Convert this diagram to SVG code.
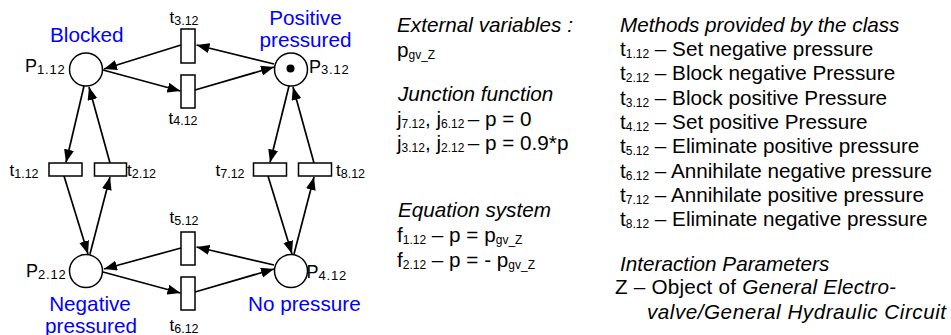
<svg xmlns="http://www.w3.org/2000/svg" width="951" height="335" viewBox="0 0 951 335">
<defs>
<style>
text{font-family:"Liberation Sans",Arial,sans-serif;fill:#000}
.m{font-size:20.7px}
.i{font-style:italic}
.b{fill:#0000ff;font-size:20.7px}
.s{font-size:12px}
.pl{font-size:18px}
.ps{font-size:13px;letter-spacing:0.8px}
.tl{font-size:17px}
.ts{font-size:12.5px}
.place{fill:#fff;stroke:#000;stroke-width:1.5}
.trans{fill:#fff;stroke:#000;stroke-width:1.5}
.arc{stroke:#000;stroke-width:1.7;fill:none;marker-end:url(#ah)}
</style>
<marker id="ah" markerUnits="userSpaceOnUse" markerWidth="14" markerHeight="11" refX="13" refY="5" orient="auto">
<path d="M0,0 L13,5 L0,10 z" fill="#000"/>
</marker>
</defs>

<g id="connectors">
<line class="arc" x1="274" y1="64" x2="196.5" y2="45"/>
<line class="arc" x1="181" y1="45" x2="104" y2="69"/>
<line class="arc" x1="103" y1="70" x2="180.5" y2="91"/>
<line class="arc" x1="195" y1="90" x2="274" y2="67"/>
<line class="arc" x1="274" y1="265" x2="196.5" y2="247"/>
<line class="arc" x1="181" y1="248" x2="104" y2="269"/>
<line class="arc" x1="103" y1="272" x2="180.5" y2="293"/>
<line class="arc" x1="195" y1="292" x2="274" y2="269"/>
<line class="arc" x1="84" y1="86" x2="66" y2="162.5"/>
<line class="arc" x1="110" y1="163" x2="89" y2="87"/>
<line class="arc" x1="64" y1="176" x2="88" y2="254"/>
<line class="arc" x1="90" y1="254" x2="110" y2="177"/>
<line class="arc" x1="289" y1="86" x2="270" y2="162.5"/>
<line class="arc" x1="314" y1="163" x2="293" y2="87"/>
<line class="arc" x1="268" y1="176" x2="292" y2="254"/>
<line class="arc" x1="294" y1="254" x2="314" y2="177"/>
</g>

<g id="P1">
<circle class="place" cx="86" cy="69.5" r="16.5"/>
<text class="pl" x="25" y="72">P<tspan class="ps" dy="1.5">1.12</tspan></text>
<text class="b" x="50" y="42">Blocked</text>
</g>
<g id="P3">
<circle class="place" cx="291" cy="69.5" r="16.5"/>
<circle cx="290.5" cy="68.5" r="4" fill="#000"/>
<text class="pl" x="309" y="72.5">P<tspan class="ps" dy="1.5">3.12</tspan></text>
<text class="b" x="305.5" y="25" text-anchor="middle">Positive</text>
<text class="b" x="305.5" y="46.7" text-anchor="middle">pressured</text>
</g>
<g id="P2">
<circle class="place" cx="86" cy="271" r="16.5"/>
<text class="pl" x="26" y="277">P<tspan class="ps" dy="1.5">2.12</tspan></text>
<text class="b" x="90" y="311" text-anchor="middle">Negative</text>
<text class="b" x="91" y="332.5" text-anchor="middle">pressured</text>
</g>
<g id="P4">
<circle class="place" cx="291" cy="271" r="16.5"/>
<text class="pl" x="306.5" y="278">P<tspan class="ps" dy="1.5">4.12</tspan></text>
<text class="b" x="248" y="311">No pressure</text>
</g>

<g id="t3">
<rect class="trans" x="181" y="29" width="14" height="34"/>
<text class="tl" x="169.5" y="23.3">t<tspan class="ts" dy="1.5">3.12</tspan></text>
</g>
<g id="t4">
<rect class="trans" x="181" y="75" width="14" height="33"/>
<text class="tl" x="168.5" y="123.5">t<tspan class="ts" dy="1.5">4.12</tspan></text>
</g>
<g id="t5">
<rect class="trans" x="181" y="232" width="14" height="33"/>
<text class="tl" x="169.5" y="223.3">t<tspan class="ts" dy="1.5">5.12</tspan></text>
</g>
<g id="t6">
<rect class="trans" x="181" y="277" width="14" height="33"/>
<text class="tl" x="169.5" y="331">t<tspan class="ts" dy="1.5">6.12</tspan></text>
</g>
<g id="t1">
<rect class="trans" x="49" y="163" width="33" height="13"/>
<text class="tl" x="9.5" y="176">t<tspan class="ts" dy="1.5">1.12</tspan></text>
</g>
<g id="t2">
<rect class="trans" x="94.5" y="163" width="32" height="13"/>
<text class="tl" x="127" y="176">t<tspan class="ts" dy="1.5">2.12</tspan></text>
</g>
<g id="t7">
<rect class="trans" x="253.5" y="163" width="33" height="13"/>
<text class="tl" x="215.5" y="176">t<tspan class="ts" dy="1.5">7.12</tspan></text>
</g>
<g id="t8">
<rect class="trans" x="298.5" y="163" width="33" height="13"/>
<text class="tl" x="336" y="176">t<tspan class="ts" dy="1.5">8.12</tspan></text>
</g>

<g id="middle">
<text class="m i" x="397" y="32">External variables :</text>
<text class="m" x="397" y="57">p<tspan class="s" dy="2">gv_Z</tspan></text>
<text class="m i" x="398" y="100.5">Junction function</text>
<text class="m" x="397" y="125.5">j<tspan class="s" dy="2">7.12</tspan><tspan dy="-2">, j</tspan><tspan class="s" dy="2">6.12 </tspan><tspan dy="-2">– p = 0</tspan></text>
<text class="m" x="397" y="149.5">j<tspan class="s" dy="2">3.12</tspan><tspan dy="-2">, j</tspan><tspan class="s" dy="2">2.12 </tspan><tspan dy="-2">– p = 0.9*p</tspan></text>
<text class="m i" x="398" y="217">Equation system</text>
<text class="m" x="397" y="242">f<tspan class="s" dy="2">1.12</tspan><tspan dy="-2"> – p = p</tspan><tspan class="s" dy="2">gv_Z</tspan></text>
<text class="m" x="397" y="267">f<tspan class="s" dy="2">2.12</tspan><tspan dy="-2"> – p = - p</tspan><tspan class="s" dy="2">gv_Z</tspan></text>
</g>

<g id="methods">
<text class="m i" x="620" y="32">Methods provided by the class</text>
<text class="m" x="620" y="56">t<tspan class="s" dy="2">1.12</tspan><tspan dy="-2"> – Set negative pressure</tspan></text>
<text class="m" x="620" y="80.3">t<tspan class="s" dy="2">2.12</tspan><tspan dy="-2"> – Block negative Pressure</tspan></text>
<text class="m" x="620" y="104.6">t<tspan class="s" dy="2">3.12</tspan><tspan dy="-2"> – Block positive Pressure</tspan></text>
<text class="m" x="620" y="128.9">t<tspan class="s" dy="2">4.12</tspan><tspan dy="-2"> – Set positive Pressure</tspan></text>
<text class="m" x="620" y="153.2">t<tspan class="s" dy="2">5.12</tspan><tspan dy="-2"> – Eliminate positive pressure</tspan></text>
<text class="m" x="620" y="177.5">t<tspan class="s" dy="2">6.12</tspan><tspan dy="-2"> – Annihilate negative pressure</tspan></text>
<text class="m" x="620" y="201.8">t<tspan class="s" dy="2">7.12</tspan><tspan dy="-2"> – Annihilate positive pressure</tspan></text>
<text class="m" x="620" y="226.1">t<tspan class="s" dy="2">8.12</tspan><tspan dy="-2"> – Eliminate negative pressure</tspan></text>
<text class="m i" x="620" y="270.5">Interaction Parameters</text>
<text class="m" x="615" y="294" textLength="281" lengthAdjust="spacing">Z – Object of <tspan class="i">General Electro-</tspan></text>
<text class="m i" x="647" y="318.5" textLength="299" lengthAdjust="spacing">valve/General Hydraulic Circuit</text>
</g>
</svg>
